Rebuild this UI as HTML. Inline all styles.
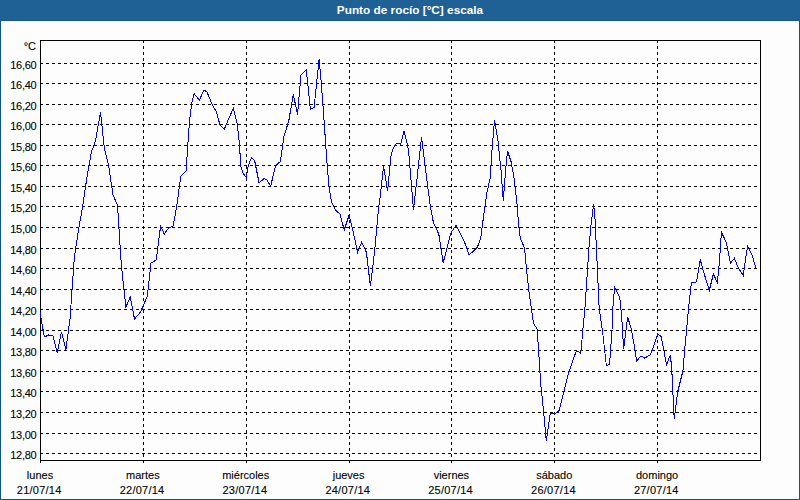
<!DOCTYPE html>
<html><head><meta charset="utf-8">
<style>
html,body{margin:0;padding:0;}
body{width:800px;height:500px;overflow:hidden;background:#fcfdfc;position:relative;font-family:"Liberation Sans",sans-serif;}
#bar{position:absolute;left:0;top:0;width:800px;height:21px;background:#1f6095;}
#bl{position:absolute;left:0;top:0;width:1px;height:500px;background:#0e548f;}
#br{position:absolute;right:0;top:0;width:1px;height:500px;background:#0e548f;}
#bb{position:absolute;left:0;bottom:0;width:800px;height:1px;background:#0e548f;}
#bar2{position:absolute;left:0;top:20px;width:800px;height:1px;background:#195891;}
svg{position:absolute;left:0;top:0;}
</style></head><body>
<div id="bl"></div><div id="br"></div><div id="bb"></div><div id="bar"></div><div id="bar2"></div>
<svg width="800" height="500" viewBox="0 0 800 500">
<text x="410" y="14" text-anchor="middle" font-family="Liberation Sans" font-weight="bold" font-size="11.8" fill="#ffffff">Punto de rocío [°C] escala</text>
<g stroke="#000" stroke-width="1" stroke-dasharray="3 3" shape-rendering="crispEdges">
<line x1="40" y1="63.5" x2="757" y2="63.5"/>
<line x1="40" y1="83.5" x2="757" y2="83.5"/>
<line x1="40" y1="104.5" x2="757" y2="104.5"/>
<line x1="40" y1="124.5" x2="757" y2="124.5"/>
<line x1="40" y1="145.5" x2="757" y2="145.5"/>
<line x1="40" y1="165.5" x2="757" y2="165.5"/>
<line x1="40" y1="186.5" x2="757" y2="186.5"/>
<line x1="40" y1="206.5" x2="757" y2="206.5"/>
<line x1="40" y1="227.5" x2="757" y2="227.5"/>
<line x1="40" y1="248.5" x2="757" y2="248.5"/>
<line x1="40" y1="268.5" x2="757" y2="268.5"/>
<line x1="40" y1="289.5" x2="757" y2="289.5"/>
<line x1="40" y1="309.5" x2="757" y2="309.5"/>
<line x1="40" y1="330.5" x2="757" y2="330.5"/>
<line x1="40" y1="350.5" x2="757" y2="350.5"/>
<line x1="40" y1="371.5" x2="757" y2="371.5"/>
<line x1="40" y1="391.5" x2="757" y2="391.5"/>
<line x1="40" y1="412.5" x2="757" y2="412.5"/>
<line x1="40" y1="433.5" x2="757" y2="433.5"/>
<line x1="40" y1="453.5" x2="757" y2="453.5"/>
<line x1="40.5" y1="40" x2="40.5" y2="463"/>
<line x1="143.5" y1="40" x2="143.5" y2="463"/>
<line x1="246.5" y1="40" x2="246.5" y2="463"/>
<line x1="349.5" y1="40" x2="349.5" y2="463"/>
<line x1="451.5" y1="40" x2="451.5" y2="463"/>
<line x1="554.5" y1="40" x2="554.5" y2="463"/>
<line x1="657.5" y1="40" x2="657.5" y2="463"/>
</g>
<rect x="40.5" y="40.5" width="720" height="420" fill="none" stroke="#000" stroke-width="1" shape-rendering="crispEdges"/>
<polyline points="40,312 44.3,337 48.6,335 52.9,336 57.3,353 61.5,332 65.9,349.5 70,319 74.3,258 78.6,229 82.9,205 87.1,176 91.4,152 95.5,141 100.5,112 104.3,148 108.7,166 113,195 117.5,205 121.3,265 125.9,307 130.2,297 134.5,319 140.5,312 147.4,296 151,263 156.2,260 160.6,226 164.3,234 168.7,228 173.1,226 176.8,206 180.8,176 186,171 189.6,120 191.6,104 194,93.6 199.4,100 204,90 207,92 212,104 216.4,112 220,125 224.4,129 229,118 233.4,108 237.1,123.5 239.3,142 240.8,166 243,173 246.3,177.4 248.1,166.4 251.4,157.6 254.7,160.9 259.1,182.9 264.2,178.5 266.8,179.6 270.6,186.4 275.6,165.6 280.4,161.4 284,136.2 288.8,120.8 293.3,94 297.5,114.8 301,74.8 306.3,69.5 310.3,109.2 314.1,107.3 319.1,59.3 321,79.6 324.2,122 325.7,144.8 327.2,165.7 329,186.6 331.6,202 335.2,209.7 340,214.2 344.2,230 349,215.5 352.8,230.2 357.6,252.2 361.6,242.3 366.4,252.2 370.4,286.3 373,265.4 375.2,245.6 378.5,208.2 380,198 383.6,166.1 387.6,191.4 390.9,156.2 393.1,148.5 396.4,143.4 400.8,144.1 404.1,130.9 408.5,149.6 413.5,209.5 417.1,177.8 421.5,137.1 425.9,172.3 430.3,206.4 433.5,223 438.8,234.1 443.2,262.7 450.9,233 456,225.3 464.8,242.9 469.2,255 477.3,247.3 480.6,238.8 484.4,210 487,192 490,179 492.4,145 494.5,120 498,141 501,170 503.3,201 505.6,170 507.5,151 511.2,162 514,178 517,204 518.6,224 520.3,238.4 524.6,248 526.5,269.6 528.9,291.2 533,320 533.6,323.5 537.2,329 540.8,385 543.2,407.5 546.3,441 550.2,413.5 552.5,413.2 554,414.2 556.2,412.7 559.2,410.5 563,395.5 568.2,374 572.2,362.4 576.2,351.2 578.5,351.6 580.8,353.4 583,328.2 584.8,310.2 587.4,271 589,247 591,225 593.6,204 595,219 597,261 599.2,308.4 602.8,333.6 606.4,366 609.6,364.2 612,330 613,306 614.6,287.6 617,292 619,295.6 620.4,302 622,322 623.6,349 627.6,317 631,328 634,344 636.6,361 641,356 644.6,358 650,355 653.3,347.5 657.7,333.6 661,336.5 663.6,348.6 666.5,365 670.2,355.2 671.6,366.2 674.2,419 677.5,392.6 683,370.6 684.8,348.6 688.8,305.8 691.4,282.7 696.5,282 700.2,259.6 704.2,273.9 709.3,290.4 713.4,273.9 717.4,282.7 719.6,259.6 721.4,232.3 726.3,242.2 730.4,263.2 734.4,258.4 738.4,268 743.2,275.2 747.5,246.4 752,255.2 756,268" fill="none" stroke="#0000f0" stroke-width="1" stroke-linejoin="miter" shape-rendering="crispEdges"/>
<g font-family="Liberation Sans" font-size="11" fill="#000" stroke="#000" stroke-width="0.1">
<text x="36.3" y="69" text-anchor="end" letter-spacing="-0.3">16,60</text>
<text x="36.3" y="89" text-anchor="end" letter-spacing="-0.3">16,40</text>
<text x="36.3" y="110" text-anchor="end" letter-spacing="-0.3">16,20</text>
<text x="36.3" y="130" text-anchor="end" letter-spacing="-0.3">16,00</text>
<text x="36.3" y="151" text-anchor="end" letter-spacing="-0.3">15,80</text>
<text x="36.3" y="171" text-anchor="end" letter-spacing="-0.3">15,60</text>
<text x="36.3" y="192" text-anchor="end" letter-spacing="-0.3">15,40</text>
<text x="36.3" y="212" text-anchor="end" letter-spacing="-0.3">15,20</text>
<text x="36.3" y="233" text-anchor="end" letter-spacing="-0.3">15,00</text>
<text x="36.3" y="254" text-anchor="end" letter-spacing="-0.3">14,80</text>
<text x="36.3" y="274" text-anchor="end" letter-spacing="-0.3">14,60</text>
<text x="36.3" y="295" text-anchor="end" letter-spacing="-0.3">14,40</text>
<text x="36.3" y="315" text-anchor="end" letter-spacing="-0.3">14,20</text>
<text x="36.3" y="336" text-anchor="end" letter-spacing="-0.3">14,00</text>
<text x="36.3" y="356" text-anchor="end" letter-spacing="-0.3">13,80</text>
<text x="36.3" y="377" text-anchor="end" letter-spacing="-0.3">13,60</text>
<text x="36.3" y="397" text-anchor="end" letter-spacing="-0.3">13,40</text>
<text x="36.3" y="418" text-anchor="end" letter-spacing="-0.3">13,20</text>
<text x="36.3" y="439" text-anchor="end" letter-spacing="-0.3">13,00</text>
<text x="36.3" y="459" text-anchor="end" letter-spacing="-0.3">12,80</text>
<text x="36" y="50" text-anchor="end">°C</text>
<text x="40.0" y="479" text-anchor="middle">lunes</text>
<text x="39.2" y="494" text-anchor="middle" letter-spacing="0.25">21/07/14</text>
<text x="142.9" y="479" text-anchor="middle">martes</text>
<text x="142.1" y="494" text-anchor="middle" letter-spacing="0.25">22/07/14</text>
<text x="245.7" y="479" text-anchor="middle">miércoles</text>
<text x="244.9" y="494" text-anchor="middle" letter-spacing="0.25">23/07/14</text>
<text x="348.6" y="479" text-anchor="middle">jueves</text>
<text x="347.8" y="494" text-anchor="middle" letter-spacing="0.25">24/07/14</text>
<text x="451.4" y="479" text-anchor="middle">viernes</text>
<text x="450.6" y="494" text-anchor="middle" letter-spacing="0.25">25/07/14</text>
<text x="554.3" y="479" text-anchor="middle">sábado</text>
<text x="553.5" y="494" text-anchor="middle" letter-spacing="0.25">26/07/14</text>
<text x="657.1" y="479" text-anchor="middle">domingo</text>
<text x="656.3" y="494" text-anchor="middle" letter-spacing="0.25">27/07/14</text>
</g>
</svg>
</body></html>
